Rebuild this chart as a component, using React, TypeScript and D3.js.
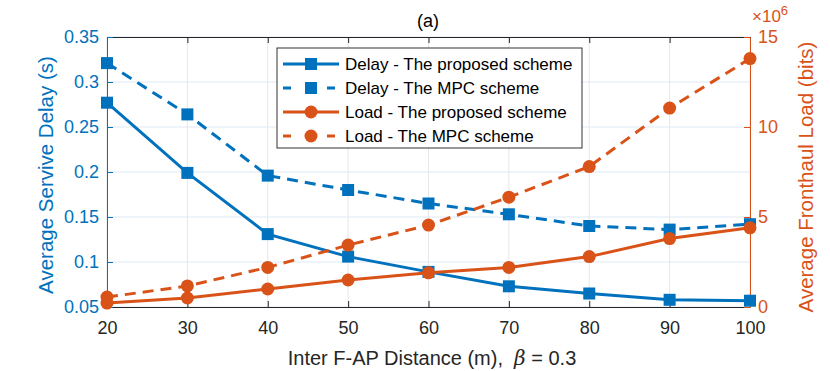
import { useEffect, useRef } from 'react';
import * as d3 from 'd3';

// inter F-AP distance (m)
const distances = [20, 30, 40, 50, 60, 70, 80, 90, 100];
// average service delay (s)
const delayProposed = [0.277, 0.199, 0.131, 0.106, 0.089, 0.073, 0.065, 0.058, 0.057];
const delayMPC = [0.321, 0.264, 0.196, 0.18, 0.165, 0.153, 0.14, 0.136, 0.142];
// average fronthaul load (x1e6 bits)
const loadProposed = [0.22, 0.5, 1.0, 1.5, 1.9, 2.2, 2.8, 3.8, 4.4];
const loadMPC = [0.55, 1.17, 2.2, 3.44, 4.55, 6.1, 7.8, 11.05, 13.8];

const leftTicks = [0.05, 0.1, 0.15, 0.2, 0.25, 0.3, 0.35];
const rightTicks = [0, 5, 10, 15];

const BLUE = '#0072BD';
const ORANGE = '#D95319';
const FONT = '"Liberation Sans", Arial, sans-serif';

const series = [
  { name: 'Delay - The proposed scheme', values: delayProposed, axis: 'left', color: BLUE, dash: null, marker: 'square' },
  { name: 'Delay - The MPC scheme', values: delayMPC, axis: 'left', color: BLUE, dash: '11,7', marker: 'square' },
  { name: 'Load - The proposed scheme', values: loadProposed, axis: 'right', color: ORANGE, dash: null, marker: 'circle' },
  { name: 'Load - The MPC scheme', values: loadMPC, axis: 'right', color: ORANGE, dash: '11,7', marker: 'circle' },
];

export default function App() {
  const width = 830;
  const height = 371;
  const marginLeft = 107;
  const marginRight = 80;
  const marginTop = 37;
  const marginBottom = 64;

  const x = d3.scaleLinear().domain([20, 100]).range([marginLeft, width - marginRight]);
  const yL = d3.scaleLinear().domain([0.05, 0.35]).range([height - marginBottom, marginTop]);
  const yR = d3.scaleLinear().domain([0, 15]).range([height - marginBottom, marginTop]);

  const gx = useRef<SVGGElement>(null);
  const gxTop = useRef<SVGGElement>(null);
  const gyL = useRef<SVGGElement>(null);
  const gyR = useRef<SVGGElement>(null);

  useEffect(() => {
    const style = (g: any, color: string) => {
      g.selectAll('.domain').attr('stroke', color).attr('stroke-width', 1);
      g.selectAll('.tick line').attr('stroke', color);
      g.selectAll('.tick text').attr('fill', color).style('font-family', FONT).style('font-size', '18px');
    };
    d3.select(gx.current)
      .call(d3.axisBottom(x).tickValues(distances).tickSize(-6).tickPadding(14).tickSizeOuter(0))
      .call((g: any) => style(g, '#262626'));
    d3.select(gxTop.current)
      .call(d3.axisTop(x).tickValues(distances).tickSize(-6).tickFormat(() => '').tickSizeOuter(0))
      .call((g: any) => style(g, '#262626'));
    d3.select(gyL.current)
      .call(d3.axisLeft(yL).tickValues(leftTicks).tickSize(-6).tickPadding(8).tickSizeOuter(0).tickFormat(d3.format('')))
      .call((g: any) => style(g, BLUE));
    d3.select(gyR.current)
      .call(d3.axisRight(yR).tickValues(rightTicks).tickSize(-6).tickPadding(8).tickSizeOuter(0))
      .call((g: any) => style(g, ORANGE));
  }, []);

  const yOf = (s: any) => (s.axis === 'left' ? yL : yR);
  const marker = (s: any, cx: number, cy: number, key: any) =>
    s.marker === 'square'
      ? <rect key={key} x={cx - 6} y={cy - 6} width={12} height={12} fill={s.color} />
      : <circle key={key} cx={cx} cy={cy} r={6.5} fill={s.color} />;

  const legX = 277;
  const legY = 48;
  const plotMidY = (marginTop + height - marginBottom) / 2;

  return (
    <svg width={width} height={height} style={{ position: 'absolute', left: 0, top: 0, fontFamily: FONT }}>
      <rect width={width} height={height} fill="white" />
      {leftTicks.map(t => (
        <line key={'hg' + t} x1={marginLeft} x2={width - marginRight} y1={yL(t)} y2={yL(t)} stroke="#dde9f4" />
      ))}
      {distances.map(t => (
        <line key={'vg' + t} x1={x(t)} x2={x(t)} y1={marginTop} y2={height - marginBottom} stroke="#e6e6e6" />
      ))}
      <g ref={gx} transform={`translate(0,${height - marginBottom})`} />
      <g ref={gxTop} transform={`translate(0,${marginTop})`} />
      <g ref={gyL} transform={`translate(${marginLeft},0)`} />
      <g ref={gyR} transform={`translate(${width - marginRight},0)`} />
      {series.map((s, i) => {
        const line = d3.line<number>().x((_, j) => x(distances[j])).y(v => yOf(s)(v));
        return (
          <g key={i}>
            <path d={line(s.values) || ''} fill="none" stroke={s.color} strokeWidth={3} strokeDasharray={s.dash || undefined} />
            {s.values.map((v, j) => marker(s, x(distances[j]), yOf(s)(v), j))}
          </g>
        );
      })}
      <g>
        <rect x={legX} y={legY} width={305} height={100} fill="white" stroke="#333" strokeWidth={1} />
        {series.map((s, i) => {
          const cy = legY + 16 + i * 24;
          return (
            <g key={i}>
              <line x1={legX + 6} x2={legX + 62} y1={cy} y2={cy} stroke={s.color} strokeWidth={3} strokeDasharray={s.dash ? '8,14' : undefined} />
              {marker(s, legX + 34, cy, 'm')}
              <text x={legX + 68} y={cy} dy="0.36em" fontSize={17} fill="#000">{s.name}</text>
            </g>
          );
        })}
      </g>
      <text x={428} y={27} textAnchor="middle" fontSize={18} fill="#000">(a)</text>
      <text x={752} y={22} fontSize={17} fill={ORANGE}>
        ×10<tspan dy={-7} fontSize={13}>6</tspan>
      </text>
      <text transform={`translate(53,${plotMidY + 3}) rotate(-90)`} textAnchor="middle" fontSize={20.5} fill={BLUE}>
        Average Servive Delay (s)
      </text>
      <text transform={`translate(813,${plotMidY + 5}) rotate(-90)`} textAnchor="middle" fontSize={20.5} fill={ORANGE}>
        Average Fronthaul Load (bits)
      </text>
      <text x={432} y={365} textAnchor="middle" fontSize={20} fill="#262626" xmlSpace="preserve">
        Inter F-AP Distance (m),  <tspan fontStyle="italic" fontFamily="'DejaVu Serif', serif">β</tspan> = 0.3
      </text>
    </svg>
  );
}
